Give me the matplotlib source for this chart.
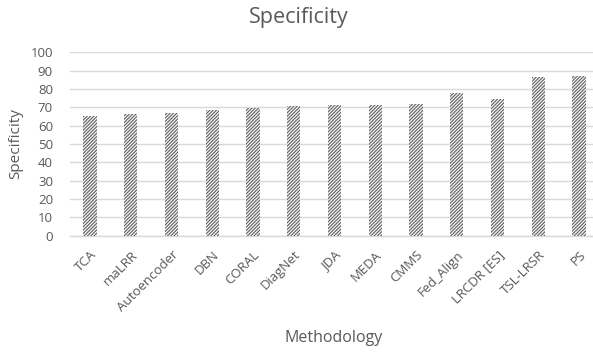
import matplotlib.pyplot as plt
import numpy as np

plt.rcParams['font.family'] = ['Open Sans', 'DejaVu Sans']
plt.rcParams['hatch.linewidth'] = 0.9
plt.rcParams['hatch.color'] = '#404040'

methods = ['TCA', 'maLRR', 'Autoencoder', 'DBN', 'CORAL', 'DiagNet', 'JDA',
           'MEDA', 'CMMS', 'Fed_Align', 'LRCDR [ES]', 'TSL-LRSR', 'PS']
specificity = [65.0, 66.4, 67.1, 68.5, 69.8, 70.9, 71.3,
               71.3, 71.8, 77.8, 74.7, 86.4, 87.2]
yticks = [0, 10, 20, 30, 40, 50, 60, 70, 80, 90, 100]

txt = '#595959'

fig = plt.figure(figsize=(5.93, 3.53), dpi=100)
ax = fig.add_axes([0.1174, 0.3323, 0.8934, 0.5195])

x = np.arange(len(methods))
ax.bar(x, specificity, width=0.33, color='white', edgecolor='#6a6a6a',
       linewidth=0, hatch='//////////', zorder=3)

ax.set_xlim(-0.5, len(methods) - 0.5)
ax.set_ylim(0, 100)
ax.set_yticks(yticks)
ax.yaxis.grid(True, color='#d9d9d9', linewidth=1.0, zorder=0)
ax.set_axisbelow(True)

for s in ['top', 'right', 'left']:
    ax.spines[s].set_visible(False)
ax.spines['bottom'].set_color('#d9d9d9')
ax.spines['bottom'].set_linewidth(1.0)

ax.tick_params(axis='both', length=0, colors=txt, labelsize=9.5)
ax.tick_params(axis='y', pad=12)
ax.set_xticks(x)
ax.set_xticklabels(methods, rotation=45, ha='right', rotation_mode='anchor')
ax.tick_params(axis='x', pad=9)

ax.set_ylabel('Specificity', color=txt, fontsize=11, labelpad=5)
fig.text(0.563, 0.0425, 'Methodology', color=txt, fontsize=11.5, ha='center', va='center')
fig.text(0.504, 0.95, 'Specificity', color=txt, fontsize=15.5, ha='center', va='center')

fig.savefig('out.png', dpi=100)
